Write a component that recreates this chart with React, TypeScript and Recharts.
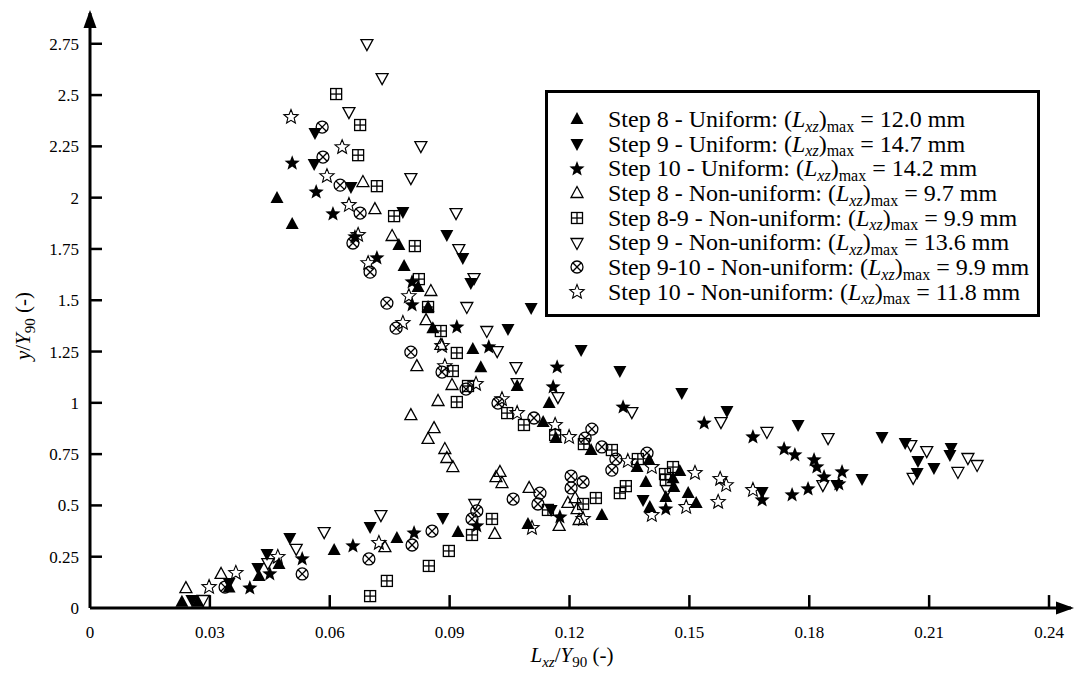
import { ScatterChart, Scatter, XAxis, YAxis, ReferenceLine, ReferenceDot, Legend } from 'recharts'

// [Lxz/Y90, y/Y90] pairs
const step8Uniform = [
  [0.023, 0.03], [0.027, 0.03], [0.0348, 0.1], [0.0423, 0.156], [0.0473, 0.214], [0.0611, 0.283],
  [0.0768, 0.341], [0.0921, 0.37], [0.1096, 0.409], [0.1281, 0.453], [0.1254, 0.77], [0.1134, 0.906],
  [0.1166, 0.828], [0.1369, 0.687], [0.1399, 0.721], [0.1476, 0.668], [0.1459, 0.633], [0.1391, 0.614],
  [0.1401, 0.492], [0.1441, 0.541], [0.1461, 0.59], [0.1497, 0.56], [0.1517, 0.512], [0.1149, 0.999],
  [0.1069, 1.082], [0.0978, 1.174], [0.0958, 1.262], [0.0858, 1.364], [0.0846, 1.467], [0.0821, 1.564],
  [0.0786, 1.667], [0.0773, 1.769], [0.0468, 1.998], [0.0506, 1.871],
]
const step9Uniform = [
  [0.0255, 0.039], [0.0348, 0.122], [0.042, 0.195], [0.0443, 0.263], [0.05, 0.341], [0.0701, 0.395],
  [0.0883, 0.439], [0.1154, 0.478], [0.1384, 0.526], [0.1682, 0.565], [0.1869, 0.599], [0.1932, 0.629],
  [0.207, 0.658], [0.2072, 0.716], [0.2112, 0.682], [0.204, 0.804], [0.1982, 0.833], [0.2152, 0.746],
  [0.2155, 0.78], [0.1772, 0.892], [0.1594, 0.96], [0.1481, 1.048], [0.1326, 1.155], [0.1229, 1.257],
  [0.1104, 1.462], [0.1046, 1.36], [0.0933, 1.706], [0.0953, 1.584], [0.0893, 1.818], [0.0783, 1.93],
  [0.0653, 2.052], [0.0563, 2.315], [0.0561, 2.164],
]
const step10Uniform = [
  [0.04, 0.097], [0.045, 0.166], [0.0531, 0.239], [0.0658, 0.302], [0.0811, 0.365], [0.0968, 0.4],
  [0.1176, 0.443], [0.1441, 0.482], [0.1682, 0.526], [0.1757, 0.551], [0.1797, 0.58], [0.1874, 0.604],
  [0.1882, 0.663], [0.1837, 0.638], [0.1819, 0.687], [0.1812, 0.721], [0.1764, 0.746], [0.1737, 0.775],
  [0.1659, 0.833], [0.1537, 0.901], [0.1334, 0.979], [0.1159, 1.077], [0.1169, 1.174], [0.0998, 1.272],
  [0.0918, 1.369], [0.0806, 1.477], [0.0806, 1.589], [0.0718, 1.706], [0.0663, 1.808], [0.0608, 1.92],
  [0.0566, 2.027], [0.0506, 2.168],
]
const step8NonUniform = [
  [0.024, 0.097], [0.0328, 0.166], [0.0738, 0.297], [0.1013, 0.361], [0.1026, 0.663], [0.1016, 0.638],
  [0.1031, 0.609], [0.1099, 0.585], [0.1174, 0.4], [0.1196, 0.512], [0.1214, 0.536], [0.1219, 0.482],
  [0.1224, 0.429], [0.0861, 0.877], [0.0846, 0.824], [0.0888, 0.775], [0.0893, 0.731], [0.0908, 0.687],
  [0.0803, 0.94], [0.0871, 1.009], [0.0906, 1.087], [0.0818, 1.179], [0.0878, 1.282], [0.0841, 1.403],
  [0.0853, 1.545], [0.0756, 1.813], [0.0713, 1.944], [0.0683, 2.076],
]
const step89NonUniform = [
  [0.0743, 0.132], [0.0701, 0.058], [0.0848, 0.205], [0.0898, 0.278], [0.0956, 0.356], [0.1006, 0.434],
  [0.1146, 0.478], [0.1234, 0.507], [0.1266, 0.536], [0.1326, 0.56], [0.1341, 0.594], [0.1439, 0.653],
  [0.1441, 0.624], [0.1459, 0.687], [0.1371, 0.726], [0.1306, 0.77], [0.1236, 0.799], [0.1164, 0.843],
  [0.1086, 0.892], [0.1044, 0.95], [0.0918, 1.004], [0.0946, 1.082], [0.0908, 1.155], [0.0918, 1.243],
  [0.0878, 1.35], [0.0846, 1.467], [0.0823, 1.603], [0.0813, 1.764], [0.0761, 1.91], [0.0718, 2.056],
  [0.0671, 2.207], [0.0676, 2.354], [0.0616, 2.505],
]
const step9NonUniform = [
  [0.0283, 0.039], [0.0445, 0.219], [0.0516, 0.288], [0.0586, 0.37], [0.0728, 0.453], [0.0963, 0.507],
  [0.1171, 1.028], [0.1066, 1.174], [0.1019, 1.252], [0.0993, 1.35], [0.0943, 1.467], [0.0923, 1.749],
  [0.0961, 1.608], [0.0916, 1.925], [0.0803, 2.095], [0.0828, 2.251], [0.0731, 2.583], [0.0693, 2.748],
  [0.0648, 2.417], [0.1356, 0.955], [0.1579, 0.906], [0.1694, 0.858], [0.1847, 0.828], [0.1834, 0.599],
  [0.1444, 0.575], [0.2054, 0.794], [0.2094, 0.765], [0.206, 0.634], [0.2197, 0.731], [0.222, 0.697],
  [0.2172, 0.663], [0.1069, 1.096],
]
const step910NonUniform = [
  [0.0338, 0.102], [0.0531, 0.166], [0.0698, 0.239], [0.0806, 0.307], [0.0856, 0.375], [0.0968, 0.473],
  [0.0956, 0.434], [0.1059, 0.531], [0.1126, 0.56], [0.1121, 0.507], [0.1204, 0.643], [0.1204, 0.585],
  [0.1234, 0.614], [0.1256, 0.872], [0.1239, 0.828], [0.1281, 0.785], [0.1316, 0.726], [0.1306, 0.672],
  [0.1394, 0.755], [0.1111, 0.926], [0.1021, 0.999], [0.0941, 1.067], [0.0881, 1.15], [0.0803, 1.247],
  [0.0766, 1.364], [0.0743, 1.486], [0.0701, 1.637], [0.0658, 1.779], [0.0676, 1.925], [0.0626, 2.061],
  [0.0583, 2.198], [0.0581, 2.344],
]
const step10NonUniform = [
  [0.0298, 0.102], [0.0365, 0.171], [0.047, 0.249], [0.0723, 0.317], [0.1106, 0.39], [0.1234, 0.434],
  [0.1406, 0.453], [0.1492, 0.492], [0.1572, 0.517], [0.1659, 0.575], [0.1592, 0.599], [0.1577, 0.629],
  [0.1514, 0.658], [0.1406, 0.687], [0.1346, 0.716], [0.1199, 0.833], [0.1164, 0.892], [0.1069, 0.95],
  [0.1031, 1.018], [0.0966, 1.092], [0.0888, 1.179], [0.0881, 1.277], [0.0783, 1.389], [0.0798, 1.52],
  [0.0696, 1.681], [0.0671, 1.818], [0.0593, 2.105], [0.0648, 1.964], [0.0631, 2.246], [0.0503, 2.393],
]

const xTicks = [0, 0.03, 0.06, 0.09, 0.12, 0.15, 0.18, 0.21, 0.24]
const yTicks = [0, 0.25, 0.5, 0.75, 1, 1.25, 1.5, 1.75, 2, 2.25, 2.5, 2.75]

const series = [
  { key: 's8u', kind: 'triUp', prefix: 'Step 8 - Uniform: (', value: '12.0', data: step8Uniform },
  { key: 's9u', kind: 'triDown', prefix: 'Step 9 - Uniform: (', value: '14.7', data: step9Uniform },
  { key: 's10u', kind: 'star', prefix: 'Step 10 - Uniform: (', value: '14.2', data: step10Uniform },
  { key: 's8n', kind: 'triUpOpen', prefix: 'Step 8 - Non-uniform: (', value: '9.7', data: step8NonUniform },
  { key: 's89n', kind: 'boxPlus', prefix: 'Step 8-9 - Non-uniform: (', value: '9.9', data: step89NonUniform },
  { key: 's9n', kind: 'triDownOpen', prefix: 'Step 9 - Non-uniform: (', value: '13.6', data: step9NonUniform },
  { key: 's910n', kind: 'circleX', prefix: 'Step 9-10 - Non-uniform: (', value: '9.9', data: step910NonUniform },
  { key: 's10n', kind: 'starOpen', prefix: 'Step 10 - Non-uniform: (', value: '11.8', data: step10NonUniform },
]

const FONT = "'Liberation Serif', 'Times New Roman', 'DejaVu Serif', serif"

function starPoints(cx: number, cy: number, ro: number, ri: number) {
  const pts: string[] = []
  for (let i = 0; i < 10; i++) {
    const r = i % 2 === 0 ? ro : ri
    const a = -Math.PI / 2 + (i * Math.PI) / 5
    pts.push(`${cx + r * Math.cos(a)},${cy + r * Math.sin(a)}`)
  }
  return pts.join(' ')
}

function Marker({ kind, cx, cy }: { kind: string; cx: number; cy: number }) {
  const sw = 1.3
  switch (kind) {
    case 'triUp':
      return <polygon points={`${cx},${cy - 7} ${cx + 6.5},${cy + 5} ${cx - 6.5},${cy + 5}`} fill="#000" />
    case 'triDown':
      return <polygon points={`${cx - 6.5},${cy - 5} ${cx + 6.5},${cy - 5} ${cx},${cy + 7}`} fill="#000" />
    case 'star':
      return <polygon points={starPoints(cx, cy, 8, 3.4)} fill="#000" />
    case 'triUpOpen':
      return <polygon points={`${cx},${cy - 6.5} ${cx + 6},${cy + 4.5} ${cx - 6},${cy + 4.5}`} fill="none" stroke="#000" strokeWidth={sw} />
    case 'triDownOpen':
      return <polygon points={`${cx - 6},${cy - 4.5} ${cx + 6},${cy - 4.5} ${cx},${cy + 6.5}`} fill="none" stroke="#000" strokeWidth={sw} />
    case 'boxPlus':
      return (
        <g fill="none" stroke="#000" strokeWidth={sw}>
          <rect x={cx - 5.5} y={cy - 5.5} width={11} height={11} />
          <line x1={cx} y1={cy - 5.5} x2={cx} y2={cy + 5.5} />
          <line x1={cx - 5.5} y1={cy} x2={cx + 5.5} y2={cy} />
        </g>
      )
    case 'circleX':
      return (
        <g fill="none" stroke="#000" strokeWidth={sw}>
          <circle cx={cx} cy={cy} r={6} />
          <line x1={cx - 4.2} y1={cy - 4.2} x2={cx + 4.2} y2={cy + 4.2} />
          <line x1={cx - 4.2} y1={cy + 4.2} x2={cx + 4.2} y2={cy - 4.2} />
        </g>
      )
    default:
      return <polygon points={starPoints(cx, cy, 7.5, 3.3)} fill="none" stroke="#000" strokeWidth={1.1} />
  }
}

const subStyle = { fontSize: 16, position: 'relative' as const, top: '0.3em', lineHeight: 0 }

function LegendBox() {
  return (
    <div
      style={{
        width: 495,
        height: 227,
        border: '3px solid #000',
        boxSizing: 'border-box',
        background: '#fff',
        fontFamily: FONT,
        fontSize: 24,
        color: '#000',
        paddingTop: 14,
      }}
    >
      {series.map((s) => (
        <div key={s.key} style={{ display: 'flex', alignItems: 'center', height: 24.7, whiteSpace: 'nowrap' }}>
          <svg width={60} height={20} style={{ flex: 'none' }}>
            <Marker kind={s.kind} cx={29} cy={10} />
          </svg>
          <span>
            {s.prefix}
            <i>L</i>
            <i style={subStyle}>xz</i>)<span style={subStyle}>max</span> = {s.value} mm
          </span>
        </div>
      ))}
    </div>
  )
}

function XTitle() {
  return (
    <text x={572} y={662} textAnchor="middle" fontFamily={FONT} fontSize={21} fill="#000">
      <tspan fontStyle="italic">L</tspan>
      <tspan fontStyle="italic" fontSize={15} dy={5}>xz</tspan>
      <tspan dy={-5}>/</tspan>
      <tspan fontStyle="italic">Y</tspan>
      <tspan fontSize={15} dy={5}>90</tspan>
      <tspan dy={-5}> (-)</tspan>
    </text>
  )
}

function YTitle() {
  return (
    <text x={0} y={0} textAnchor="middle" fontFamily={FONT} fontSize={21} fill="#000" transform="translate(30,326) rotate(-90)">
      <tspan fontStyle="italic">y</tspan>
      <tspan>/</tspan>
      <tspan fontStyle="italic">Y</tspan>
      <tspan fontSize={15} dy={5}>90</tspan>
      <tspan dy={-5}> (-)</tspan>
    </text>
  )
}

const tickStyle = { fill: '#000', fontSize: 17, fontFamily: FONT }

export default function App() {
  return (
    <div style={{ position: 'absolute', left: 0, top: 0, background: '#fff', fontFamily: FONT }}>
      <ScatterChart width={1075} height={673} margin={{ top: 13, right: 4, bottom: 25, left: 30 }} style={{ fontFamily: FONT }}>
        <XAxis
          type="number"
          dataKey="x"
          domain={[0, 0.2455]}
          ticks={xTicks}
          tickFormatter={(v: number) => String(v)}
          axisLine={{ stroke: '#000', strokeWidth: 3 }}
          tickLine={false}
          tickSize={0}
          tickMargin={18}
          tick={tickStyle}
          height={40}
          allowDataOverflow
          label={{ content: XTitle }}
        />
        <YAxis
          type="number"
          dataKey="y"
          domain={[0, 2.9]}
          ticks={yTicks}
          tickFormatter={(v: number) => String(v)}
          axisLine={{ stroke: '#000', strokeWidth: 3 }}
          tickLine={false}
          tickSize={0}
          tickMargin={11}
          tick={tickStyle}
          width={60}
          allowDataOverflow
          label={{ content: YTitle }}
        />
        {xTicks.slice(1).map((t) => (
          <ReferenceLine key={'xt' + t} segment={[{ x: t, y: 0 }, { x: t, y: 0.063 }]} stroke="#000" strokeWidth={2.5} />
        ))}
        {yTicks.slice(1).map((t) => (
          <ReferenceLine key={'yt' + t} segment={[{ x: 0, y: t }, { x: 0.003, y: t }]} stroke="#000" strokeWidth={2.5} />
        ))}
        <ReferenceDot
          x={0.2455}
          y={0}
          ifOverflow="visible"
          shape={(p: any) => <polygon points={`${p.cx + 3},${p.cy} ${p.cx - 15},${p.cy - 6.5} ${p.cx - 15},${p.cy + 6.5}`} fill="#000" />}
        />
        <ReferenceDot
          x={0}
          y={2.9}
          ifOverflow="visible"
          shape={(p: any) => <polygon points={`${p.cx},${p.cy - 3} ${p.cx - 6.5},${p.cy + 15} ${p.cx + 6.5},${p.cy + 15}`} fill="#000" />}
        />
        {series.map((s) => (
          <Scatter
            key={s.key}
            name={s.key}
            data={s.data.map(([x, y]) => ({ x, y }))}
            isAnimationActive={false}
            shape={(p: any) => <Marker kind={s.kind} cx={p.cx} cy={p.cy} />}
          />
        ))}
        <Legend
          layout="vertical"
          align="center"
          verticalAlign="middle"
          content={() => <LegendBox />}
          wrapperStyle={{ left: 545, top: 90, width: 495, height: 227 }}
        />
      </ScatterChart>
    </div>
  )
}
